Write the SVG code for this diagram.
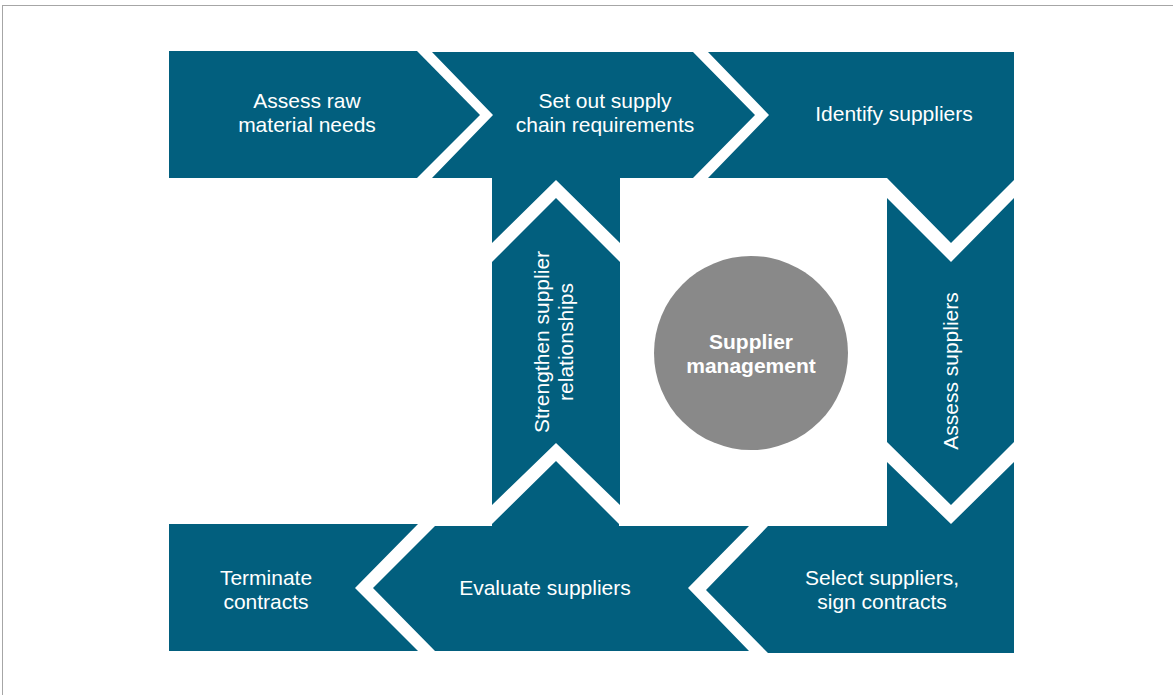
<svg xmlns="http://www.w3.org/2000/svg" width="1173" height="695" viewBox="0 0 1173 695">
<style>
.step{fill:#025f7e;}
.lbl{font-family:"Liberation Sans",Arial,sans-serif;font-size:21px;fill:#ffffff;text-anchor:middle;}
.hub{fill:#898989;}
.hubl{font-family:"Liberation Sans",Arial,sans-serif;font-size:21px;font-weight:bold;fill:#ffffff;text-anchor:middle;}
</style>
<rect x="0" y="0" width="1173" height="695" fill="#ffffff"/>
<rect x="2.5" y="5.5" width="1180" height="700" fill="none" stroke="#a6a6a6" stroke-width="1"/>
<g id="connectors"></g>
<g id="n1">
<polygon class="step" points="169,51 417,51 480,115 417,178 169,178"/>
<text class="lbl" x="307" y="108">Assess raw</text>
<text class="lbl" x="307" y="132">material needs</text>
</g>
<g id="n2">
<polygon class="step" points="432,52 693,52 755,115 693,178 620,178 620,243 556,180 492,243 492,178 432,178 493,115"/>
<text class="lbl" x="605" y="108">Set out supply</text>
<text class="lbl" x="605" y="132">chain requirements</text>
</g>
<g id="n3">
<polygon class="step" points="708,52 1014,52 1014,180 951,243 887,178 708,178 769,115"/>
<text class="lbl" x="894" y="121">Identify suppliers</text>
</g>
<g id="n4">
<polygon class="step" points="887,198 951,262 1014,198 1014,442 951,505 887,442"/>
<text class="lbl" transform="translate(958,371) rotate(-90)">Assess suppliers</text>
</g>
<g id="n5">
<polygon class="step" points="768,526 887,526 887,462 951,524 1014,462 1014,653 768,653 706,590"/>
<text class="lbl" x="882" y="585">Select suppliers,</text>
<text class="lbl" x="882" y="609">sign contracts</text>
</g>
<g id="n6">
<polygon class="step" points="373,588 435,526 492,526 492,524 556,461 619,524 619,526 749,526 688,588 749,651 435,651"/>
<text class="lbl" x="545" y="595">Evaluate suppliers</text>
</g>
<g id="n7">
<polygon class="step" points="169,524 418,524 355,588 418,651 169,651"/>
<text class="lbl" x="266" y="585">Terminate</text>
<text class="lbl" x="266" y="609">contracts</text>
</g>
<g id="n8">
<polygon class="step" points="556,198 620,262 620,505 556,443 492,505 492,262"/>
<text class="lbl" transform="translate(549,342) rotate(-90)">Strengthen supplier</text>
<text class="lbl" transform="translate(573,342) rotate(-90)">relationships</text>
</g>
<g id="hub">
<circle class="hub" cx="751" cy="353" r="97"/>
<text class="hubl" x="751" y="349">Supplier</text>
<text class="hubl" x="751" y="373">management</text>
</g>
</svg>
